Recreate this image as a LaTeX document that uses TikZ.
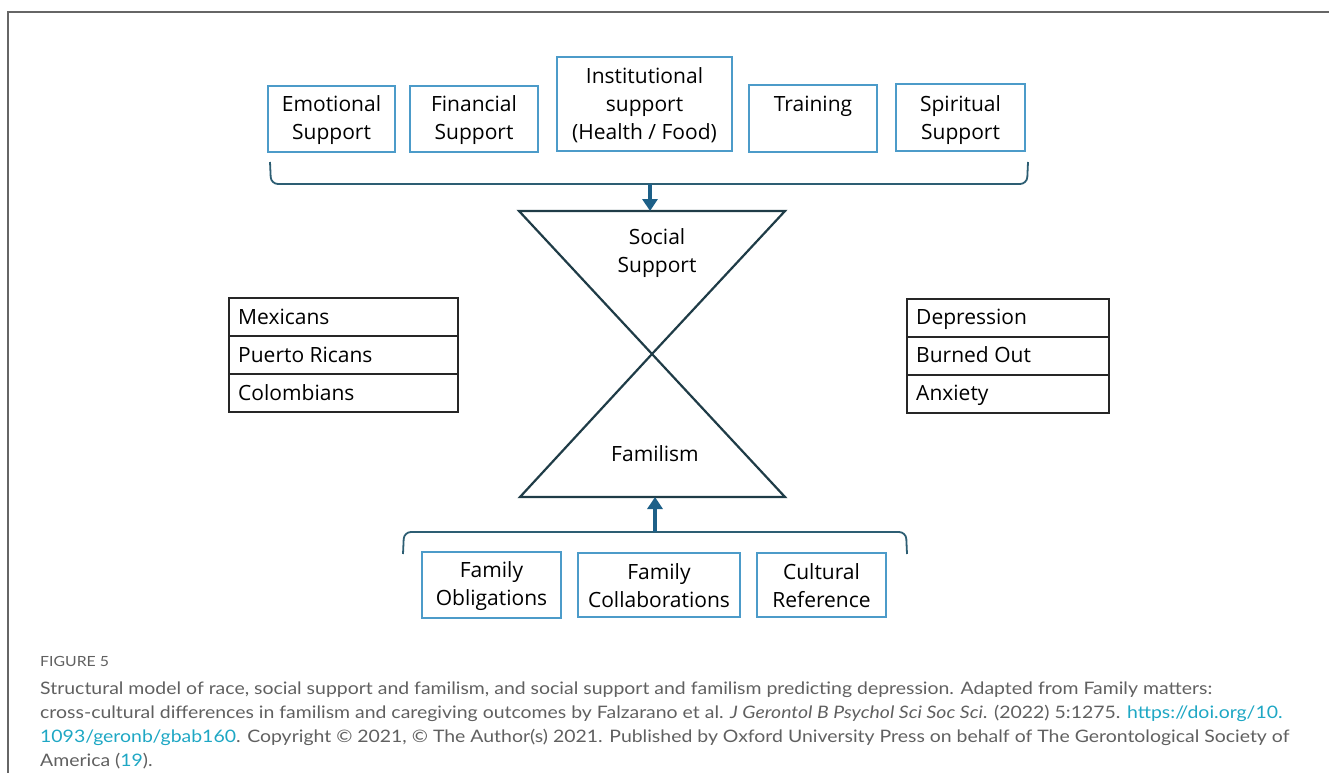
\documentclass[tikz,border=0pt]{standalone}
\usepackage{fontspec}
\setmainfont{Open Sans}
\newfontfamily\capfont{Lato}[FakeStretch=1.13]
\usetikzlibrary{arrows.meta}
\definecolor{boxblue}{HTML}{4C9BC9}
\definecolor{brk}{HTML}{2D5E73}
\definecolor{arr}{HTML}{1D6088}
\definecolor{tri}{HTML}{1F3C47}
\definecolor{capgray}{HTML}{606060}
\definecolor{linkc}{HTML}{1EA7C4}
\newcommand{\lnk}[1]{\textcolor{linkc}{#1}}
\tikzset{
  sbox/.style={draw=boxblue, line width=1.4pt, fill=white, inner sep=0pt},
  cell/.style={draw=black!85, line width=1.8pt, inner sep=0pt, anchor=north west},
  celltxt/.style={anchor=west, inner sep=0pt, text height=15pt, text depth=5pt, font=\fontsize{21}{25}\selectfont},
  bracket/.style={draw=brk, line width=1.8pt, rounded corners=7pt},
  bigarrow/.style={draw=arr, line width=3.5pt, -{Triangle[width=15pt,length=12pt]}},
  triangle/.style={draw=tri, line width=2.2pt, line join=miter},
  lbl/.style={inner sep=0pt, font=\fontsize{21}{28}\selectfont, align=center},
  captxt/.style={anchor=base west, inner sep=0pt, text=capgray, font=\capfont\fontsize{17.2}{20}\selectfont},
}
\begin{document}
\begin{tikzpicture}[x=1pt,y=-1pt]
\useasboundingbox (0,0) rectangle (1329,773);
% outer frame
\draw[draw=black!60, line width=1.6pt] (1329,12) -- (8,12) -- (8,773);

% top boxes
\node[sbox, minimum width=127pt, minimum height=66pt] (emo) at (331.5,119) {};
\node[lbl] (emot) at (331.5,120) {Emotional\\Support};
\node[sbox, minimum width=128pt, minimum height=66pt] (fin) at (474,119) {};
\node[lbl] (fint) at (474,120) {Financial\\Support};
\node[sbox, minimum width=175pt, minimum height=94pt] (ins) at (644.5,104) {};
\node[lbl] (inst) at (644.5,105) {Institutional\\support\\(Health / Food)};
\node[sbox, minimum width=128pt, minimum height=67pt] (tra) at (813,118.5) {};
\node[lbl] (trat) at (813,106) {Training};
\node[sbox, minimum width=129pt, minimum height=67pt] (spi) at (960.5,117.5) {};
\node[lbl] (spit) at (960.5,120) {Spiritual\\Support};

% top bracket
\coordinate (tbL) at (270,162);
\coordinate (tbR) at (1028,162);
\coordinate (tbM) at (650,184);
\draw[bracket] (tbL) -- (271,184) -- (1027,184) -- (tbR);

% triangles
\coordinate (tTL) at (519,211);
\coordinate (tTR) at (785,211);
\coordinate (tTM) at (650,211);
\coordinate (cx) at (652,354);
\coordinate (bBL) at (520,497);
\coordinate (bBR) at (785,497);
\coordinate (bBM) at (655,497);
\draw[triangle] (tTL) -- (tTR) -- (cx) -- cycle;
\draw[triangle] (cx) -- (bBR) -- (bBL) -- cycle;
\node[lbl] (ss) at (657,253) {Social\\Support};
\node[lbl] (fam) at (655,454) {Familism};

\draw[bigarrow] (tbM) -- (tTM);

% left table
\node[cell, minimum width=229pt, minimum height=38pt] (mx) at (228,297) {};
\node[cell, minimum width=229pt, minimum height=38pt] (pr) at (228,335) {};
\node[cell, minimum width=229pt, minimum height=38pt] (co) at (228,373) {};
\node[celltxt] (mxt) at ([xshift=10pt,yshift=-3pt]mx.west) {Mexicans};
\node[celltxt] (prt) at ([xshift=10pt,yshift=-3pt]pr.west) {Puerto Ricans};
\node[celltxt] (cot) at ([xshift=10pt,yshift=-3pt]co.west) {Colombians};

% right table
\node[cell, minimum width=202pt, minimum height=38pt] (de) at (906,298) {};
\node[cell, minimum width=202pt, minimum height=38pt] (bo) at (906,336) {};
\node[cell, minimum width=202pt, minimum height=38pt] (an) at (906,374) {};
\node[celltxt] (det) at ([xshift=10pt,yshift=-2pt]de.west) {Depression};
\node[celltxt] (bot) at ([xshift=10pt,yshift=-2pt]bo.west) {Burned Out};
\node[celltxt] (ant) at ([xshift=10pt,yshift=-2pt]an.west) {Anxiety};

% bottom bracket
\coordinate (bbL) at (403,554);
\coordinate (bbR) at (907,554);
\coordinate (bbM) at (655,532);
\draw[bracket] (bbL) -- (404,532) -- (906,532) -- (bbR);
\draw[bigarrow] (bbM) -- (bBM);

% bottom boxes
\node[sbox, minimum width=139pt, minimum height=66pt] (fo) at (491.5,585) {};
\node[lbl] (fot) at (491.5,586) {Family\\Obligations};
\node[sbox, minimum width=162pt, minimum height=64pt] (fc) at (659,585) {};
\node[lbl] (fct) at (659,585.5) {Family\\Collaborations};
\node[sbox, minimum width=129pt, minimum height=64pt] (cr) at (821.5,585) {};
\node[lbl] (crt) at (821.5,585.5) {Cultural\\Reference};

% caption
\node[captxt, font=\capfont\fontsize{14}{16}\selectfont] (fig) at (40,666) {FIGURE 5};
\node[captxt] (c1) at (40,694) {Structural model of race, social support and familism, and social support and familism predicting depression. Adapted from Family matters:};
\node[captxt] (c2) at (40,718) {cross-cultural differences in familism and caregiving outcomes by Falzarano et al. \textit{J Gerontol B Psychol Sci Soc Sci}. (2022) 5:1275. \lnk{https://doi.org/10.}};
\node[captxt] (c3) at (40,742) {\lnk{1093/geronb/gbab160}. Copyright © 2021, © The Author(s) 2021. Published by Oxford University Press on behalf of The Gerontological Society of};
\node[captxt] (c4) at (40,766) {America (\lnk{19}).};
\end{tikzpicture}
\end{document}
